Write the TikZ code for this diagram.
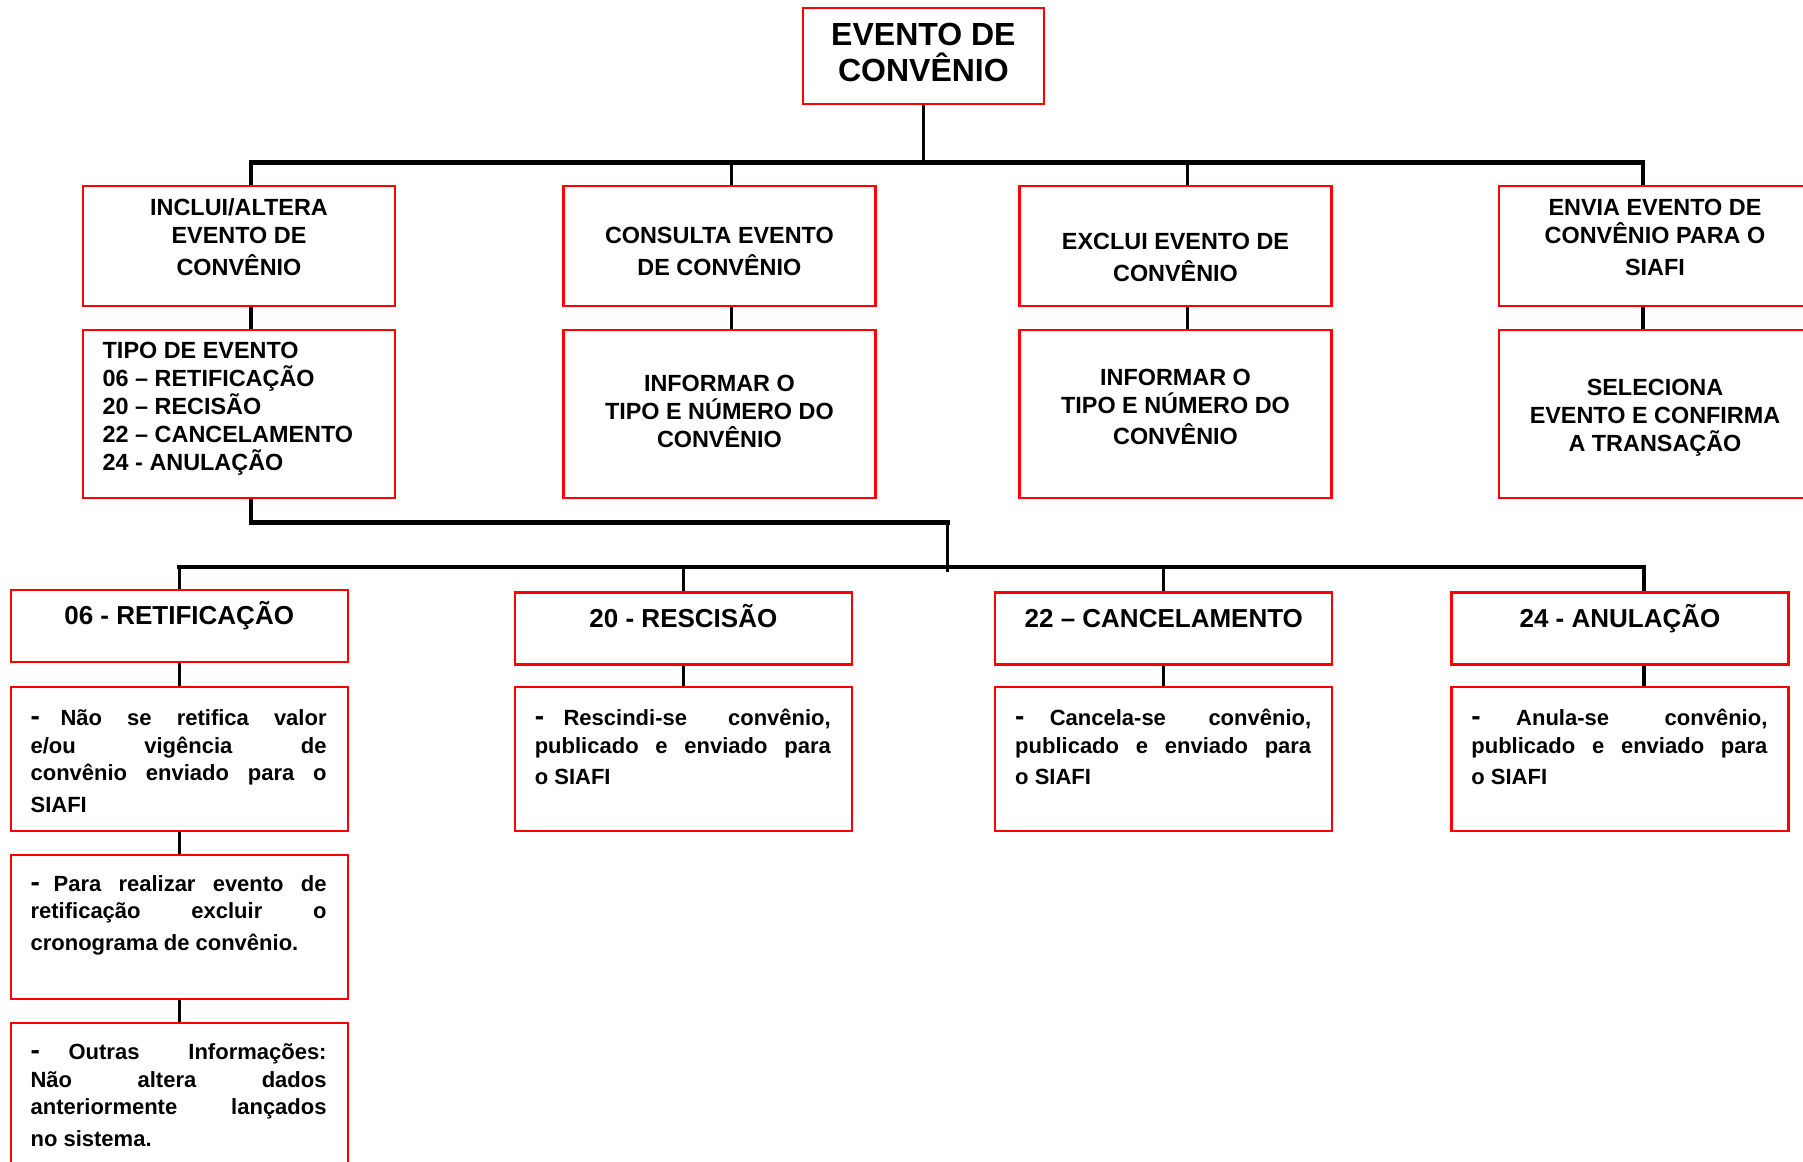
\documentclass[tikz,border=0pt]{standalone}
\usepackage{fontspec}
\setmainfont{Liberation Sans}
\definecolor{boxred}{RGB}{255, 0, 0}
\newcommand{\bul}[1][15pt]{\rule{0pt}{9.6pt}\makebox[#1][l]{\fontsize{14}{14}\selectfont -}}
\newcommand{\up}[1][9.8pt]{\rule{0pt}{#1}}

\begin{document}
\begin{tikzpicture}[x=0.5pt, y=-0.5pt,
  box/.style={draw=boxred, line width=1.1pt, inner sep=0pt, minimum width=156pt, minimum height=60pt},
  head/.style={box, minimum width=168.5pt, minimum height=36pt},
  note/.style={head, minimum height=72pt},
  boxtxt/.style={inner sep=0pt, anchor=north, align=center, font=\fontsize{11.7}{14}\selectfont\bfseries},
  title/.style={inner sep=0pt, anchor=base, font=\fontsize{13}{15}\selectfont\bfseries},
  body/.style={inner sep=0pt, anchor=north west, text width=148pt, align=justify, font=\fontsize{11}{13.75}\selectfont\bfseries},
  link/.style={line width=1.6pt},
  bar/.style={line width=2.2pt, line cap=rect}]

  \useasboundingbox (0,0) rectangle (1803,1161);
  \clip (0,0) rectangle (1803,1161);

  % Root
  \node[box, minimum width=120.6pt, minimum height=48pt] (evento) at (923.4,56) {};
  \node[boxtxt, font=\fontsize{16}{18}\selectfont\bfseries] (eventot) at ([yshift=-6.75pt]evento.north) {\up[12.6pt]EVENTO DE\\CONVÊNIO};

  % Second row: operations
  \node[box] (inclui) at (239,246) {};
  \node[box] (consulta) at (719.4,246) {};
  \node[box] (exclui) at (1175.5,246) {};
  \node[box] (envia) at (1655,246) {};
  \node[boxtxt] (incluit) at ([yshift=-5.2pt]inclui.north) {\up INCLUI/ALTERA\\EVENTO DE\\[2pt]CONVÊNIO};
  \node[boxtxt] (consultat) at ([yshift=-19.2pt]consulta.north) {\up CONSULTA EVENTO\\[2pt]DE CONVÊNIO};
  \node[boxtxt] (excluit) at ([yshift=-22.2pt]exclui.north) {\up EXCLUI EVENTO DE\\[2pt]CONVÊNIO};
  \node[boxtxt] (enviat) at ([yshift=-5.1pt]envia.north) {\up ENVIA EVENTO DE\\CONVÊNIO PARA O\\[2pt]SIAFI};

  % Third row: what is asked
  \node[box, minimum height=84pt] (tipo) at (239,414) {};
  \node[box, minimum height=84pt] (infob) at (719.4,414) {};
  \node[box, minimum height=84pt] (infoc) at (1175.5,414) {};
  \node[box, minimum height=84pt] (seleciona) at (1655,414) {};
  \node[boxtxt, anchor=north west, align=left] (tipot) at ([xshift=10.2pt, yshift=-4.9pt]tipo.north west) {\up TIPO DE EVENTO\\06 – RETIFICAÇÃO\\20 – RECISÃO\\22 – CANCELAMENTO\\24 - ANULAÇÃO};
  \node[boxtxt] (infobt) at ([yshift=-21.5pt]infob.north) {\up INFORMAR O\\TIPO E NÚMERO DO\\CONVÊNIO};
  \node[boxtxt] (infoct) at ([yshift=-18.5pt]infoc.north) {\up INFORMAR O\\TIPO E NÚMERO DO\\[1.5pt]CONVÊNIO};
  \node[boxtxt] (selecionat) at ([yshift=-23.2pt]seleciona.north) {\up SELECIONA\\EVENTO E CONFIRMA\\A TRANSAÇÃO};

  % Top connectors
  \coordinate (hub1) at (923.4,162.3);
  \draw[link] (evento.south) -- (hub1);
  \draw[bar] ([xshift=6pt]inclui.north |- hub1) -- ([xshift=-6pt]envia.north |- hub1);
  \foreach \n in {inclui, consulta, exclui}
    \draw[link] ([xshift=6pt]\n.north) -- ([xshift=6pt]\n.north |- hub1);
  \draw[link] ([xshift=-6pt]envia.north) -- ([xshift=-6pt]envia.north |- hub1);
  \draw[link] ([xshift=6pt]inclui.south) -- ([xshift=6pt]tipo.north);
  \draw[link] ([xshift=6pt]consulta.south) -- ([xshift=6pt]infob.north);
  \draw[link] ([xshift=6pt]exclui.south) -- ([xshift=6pt]infoc.north);
  \draw[link] ([xshift=-6pt]envia.south) -- ([xshift=-6pt]seleciona.north);

  % Event types
  \node[head] (retif) at (179.2,626) {};
  \node[head] (resc) at (683.4,628.5) {};
  \node[head] (canc) at (1163.8,628.5) {};
  \node[head] (anul) at (1620,628.5) {};
  \node[title] (retift) at ([yshift=-17.8pt]retif.north) {06 - RETIFICAÇÃO};
  \node[title] (resct) at ([yshift=-17.8pt]resc.north) {20 - RESCISÃO};
  \node[title] (canct) at ([yshift=-17.8pt]canc.north) {22 – CANCELAMENTO};
  \node[title] (anult) at ([yshift=-17.8pt]anul.north) {24 - ANULAÇÃO};

  % Notes
  \node[note] (retifa) at (179.2,758.6) {};
  \node[note] (retifb) at (179.2,926.8) {};
  \node[note] (retifc) at (179.2,1095) {};
  \node[note] (resca) at (683.4,758.6) {};
  \node[note] (canca) at (1163.8,758.6) {};
  \node[note] (anula) at (1620,758.6) {};

  \node[body] (retifat) at ([xshift=10.3pt, yshift=-10.4pt]retifa.north west) {\bul Não se retifica valor\linebreak e/ou vigência de\linebreak convênio enviado para o\vspace{2pt}\linebreak SIAFI};
  \node[body] (retifbt) at ([xshift=10.3pt, yshift=-8.9pt]retifb.north west) {\bul[11.5pt]Para realizar evento de\linebreak retificação excluir o\vspace{2pt}\linebreak cronograma de convênio.};
  \node[body] (retifct) at ([xshift=10.3pt, yshift=-9.2pt]retifc.north west) {\bul[19pt]Outras Informações:\linebreak Não altera dados\linebreak anteriormente lançados\vspace{2pt}\linebreak no sistema.};
  \node[body] (rescat) at ([xshift=10.3pt, yshift=-10.4pt]resca.north west) {\bul[14.4pt]Rescindi-se convênio,\linebreak publicado e enviado para\vspace{2pt}\linebreak o SIAFI};
  \node[body] (cancat) at ([xshift=10.3pt, yshift=-10.4pt]canca.north west) {\bul[17.3pt]Cancela-se convênio,\linebreak publicado e enviado para\vspace{2pt}\linebreak o SIAFI};
  \node[body] (anulat) at ([xshift=10.3pt, yshift=-10.4pt]anula.north west) {\bul[22.4pt]Anula-se convênio,\linebreak publicado e enviado para\vspace{2pt}\linebreak o SIAFI};

  % Lower connectors
  \coordinate (knee) at (947.6,522.3);
  \coordinate (hub2) at (947.6,566.7);
  \draw[link] ([xshift=6pt]tipo.south) |- (knee);
  \draw[bar] ([xshift=6pt]tipo.south |- knee) -- (knee);
  \draw[link] (knee) -- ([yshift=-2.5pt]hub2);
  \draw[bar] (retif.north |- hub2) -- ([xshift=12pt]anul.north |- hub2);
  \foreach \n in {retif, resc, canc}
    \draw[link] (\n.north) -- (\n.north |- hub2);
  \draw[link] ([xshift=12pt]anul.north) -- ([xshift=12pt]anul.north |- hub2);
  \draw[link] (retif.south) -- (retifa.north);
  \draw[link] (retifa.south) -- (retifb.north);
  \draw[link] (retifb.south) -- (retifc.north);
  \draw[link] (resc.south) -- (resca.north);
  \draw[link] (canc.south) -- (canca.north);
  \draw[link] ([xshift=12pt]anul.south) -- ([xshift=12pt]anula.north);
\end{tikzpicture}
\end{document}
